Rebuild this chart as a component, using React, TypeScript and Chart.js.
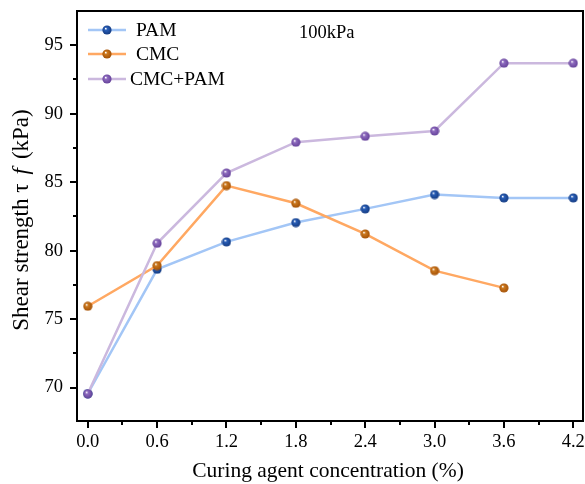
import React, { useEffect, useRef } from "react";
import { Chart, registerables } from "chart.js";

Chart.register(...registerables);

const concentrations = [0.0, 0.6, 1.2, 1.8, 2.4, 3.0, 3.6, 4.2];
const pamValues = [69.55, 78.64, 80.64, 82.05, 83.05, 84.1, 83.85, 83.85];
const cmcValues = [75.94, 78.91, 84.75, 83.46, 81.22, 78.54, 77.28];
const cmcPamValues = [69.55, 80.54, 85.67, 87.92, 88.35, 88.74, 93.69, 93.69];
const seriesNames = ["PAM", "CMC", "CMC+PAM"];
const xTickValues = [0.0, 0.6, 1.2, 1.8, 2.4, 3.0, 3.6, 4.2];
const xTickLabels = ["0.0", "0.6", "1.2", "1.8", "2.4", "3.0", "3.6", "4.2"];
const xMinorTickValues = [0.3, 0.9, 1.5, 2.1, 2.7, 3.3, 3.9];
const yTickValues = [70, 75, 80, 85, 90, 95];
const yTickLabels = ["70", "75", "80", "85", "90", "95"];
const yMinorTickValues = [72.5, 77.5, 82.5, 87.5, 92.5];
const annotationText = "100kPa";
const xTitle = "Curing agent concentration (%)";

const FONT = "'Liberation Serif', 'Times New Roman', serif";

function sphere(base: string, dark: string): HTMLCanvasElement {
  const c = document.createElement("canvas");
  c.width = 10;
  c.height = 10;
  const g = c.getContext("2d")!;
  const grad = g.createRadialGradient(3.6, 3.4, 0.3, 5, 5, 5);
  grad.addColorStop(0, "#ffffff");
  grad.addColorStop(0.25, base);
  grad.addColorStop(0.85, dark);
  grad.addColorStop(1, dark);
  g.fillStyle = grad;
  g.beginPath();
  g.arc(5, 5, 4.6, 0, Math.PI * 2);
  g.fill();
  return c;
}

export default function App() {
  const ref = useRef<HTMLCanvasElement>(null);

  useEffect(() => {
    const pamMarker = sphere("#2a5fb8", "#163f88");
    const cmcMarker = sphere("#cc7a20", "#a85508");
    const cpMarker = sphere("#8f6cc0", "#6a479e");
    const lineColors = ["#a3c6f6", "#ffa862", "#cbb8de"];
    const markers = [pamMarker, cmcMarker, cpMarker];

    const toXY = (vals: number[]) => vals.map((v, i) => ({ x: concentrations[i], y: v }));

    const frame = {
      id: "frame",
      afterDraw(chart: any) {
        const ctx = chart.ctx as CanvasRenderingContext2D;
        const a = chart.chartArea;
        const xs = chart.scales.x;
        const ys = chart.scales.y;
        ctx.save();
        ctx.strokeStyle = "#000";
        ctx.lineWidth = 2;
        ctx.strokeRect(a.left, a.top, a.right - a.left, a.bottom - a.top);
        ctx.beginPath();
        for (const v of xTickValues) {
          const p = Math.round(xs.getPixelForValue(v));
          ctx.moveTo(p, a.bottom);
          ctx.lineTo(p, a.bottom + 7);
        }
        for (const v of xMinorTickValues) {
          const p = Math.round(xs.getPixelForValue(v));
          ctx.moveTo(p, a.bottom);
          ctx.lineTo(p, a.bottom + 4);
        }
        for (const v of yTickValues) {
          const p = Math.round(ys.getPixelForValue(v));
          ctx.moveTo(a.left, p);
          ctx.lineTo(a.left - 7, p);
        }
        for (const v of yMinorTickValues) {
          const p = Math.round(ys.getPixelForValue(v));
          ctx.moveTo(a.left, p);
          ctx.lineTo(a.left - 4, p);
        }
        ctx.stroke();

        // tick labels
        ctx.fillStyle = "#000";
        ctx.font = `18.5px ${FONT}`;
        ctx.textBaseline = "middle";
        ctx.textAlign = "center";
        xTickValues.forEach((v, i) => {
          ctx.fillText(xTickLabels[i], xs.getPixelForValue(v), a.bottom + 21);
        });
        ctx.textAlign = "right";
        yTickValues.forEach((v, i) => {
          ctx.fillText(yTickLabels[i], a.left - 14, ys.getPixelForValue(v));
        });

        // legend
        ctx.textBaseline = "middle";
        ctx.textAlign = "left";
        ctx.font = `19.5px ${FONT}`;
        const rowsY = [30, 54, 79];
        seriesNames.forEach((name, i) => {
          const y = rowsY[i];
          ctx.strokeStyle = lineColors[i];
          ctx.lineWidth = 2.5;
          ctx.beginPath();
          ctx.moveTo(88, y);
          ctx.lineTo(126, y);
          ctx.stroke();
          ctx.drawImage(markers[i], 107 - 5, y - 5);
          ctx.fillStyle = "#000";
          ctx.fillText(name, i === 2 ? 130 : 136, y + 1);
        });

        // annotation
        ctx.font = `18.5px ${FONT}`;
        ctx.textBaseline = "alphabetic";
        ctx.fillText(annotationText, 299, 38);

        // x title
        ctx.font = `21.5px ${FONT}`;
        ctx.textAlign = "center";
        ctx.fillText(xTitle, 328, 477);

        // y title with italic f
        ctx.save();
        ctx.translate(28, 220);
        ctx.rotate(-Math.PI / 2);
        const segs: [string, string, number][] = [
          ["Shear strength \u03c4", `23px ${FONT}`, 9],
          ["f", `italic 23px ${FONT}`, 9],
          ["(kPa)", `23px ${FONT}`, 0],
        ];
        let total = 0;
        for (const [t, f, gap] of segs) {
          ctx.font = f;
          total += ctx.measureText(t).width + gap;
        }
        let x = -total / 2;
        ctx.textAlign = "left";
        for (const [t, f, gap] of segs) {
          ctx.font = f;
          ctx.fillText(t, x, 0);
          x += ctx.measureText(t).width + gap;
        }
        ctx.restore();
        ctx.restore();
      },
    };

    const chart = new Chart(ref.current!, {
      type: "line",
      data: {
        datasets: [
          { label: seriesNames[0], data: toXY(pamValues), borderColor: lineColors[0], pointStyle: pamMarker as any, order: 3 },
          { label: seriesNames[1], data: toXY(cmcValues), borderColor: lineColors[1], pointStyle: cmcMarker as any, order: 2 },
          { label: seriesNames[2], data: toXY(cmcPamValues), borderColor: lineColors[2], pointStyle: cpMarker as any, order: 1 },
        ].map((d) => ({ ...d, borderWidth: 2.5, pointRadius: 5, tension: 0, fill: false })),
      },
      options: {
        responsive: false,
        animation: false,
        layout: { autoPadding: false, padding: { top: 11, right: 2, left: 0, bottom: 0 } },
        plugins: { legend: { display: false }, tooltip: { enabled: false } },
        scales: {
          x: {
            type: "linear",
            min: -0.093,
            max: 4.284,
            grid: { display: false, drawTicks: false },
            border: { display: false },
            ticks: { display: false },
            afterBuildTicks: (s: any) => {
              s.ticks = xTickValues.map((v) => ({ value: v }));
            },
            afterFit: (s: any) => {
              s.height = 63;
              s.paddingLeft = 0;
              s.paddingRight = 0;
            },
          },
          y: {
            type: "linear",
            min: 67.56,
            max: 97.5,
            grid: { display: false, drawTicks: false },
            border: { display: false },
            ticks: { display: false },
            afterBuildTicks: (s: any) => {
              s.ticks = yTickValues.map((v) => ({ value: v }));
            },
            afterFit: (s: any) => {
              s.width = 77;
              s.paddingTop = 0;
              s.paddingBottom = 0;
            },
          },
        },
      },
      plugins: [frame],
    } as any);
    return () => chart.destroy();
  }, []);

  return (
    <div style={{ position: "absolute", left: 0, top: 0, width: 585, height: 484, background: "#fff" }}>
      <canvas ref={ref} width={585} height={484} style={{ display: "block" }} />
    </div>
  );
}
